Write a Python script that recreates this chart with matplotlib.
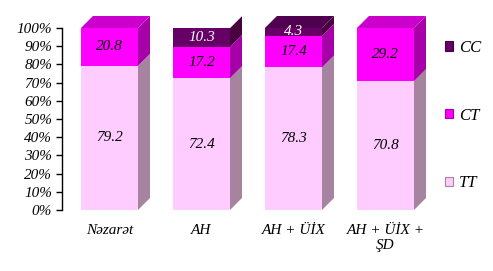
import matplotlib
matplotlib.use("Agg")
import matplotlib.pyplot as plt
from matplotlib.patches import Polygon, Patch
import numpy as np

# Datos (%)
categorias = ["Nəzarət", "AH", "AH + ÜİX", "AH + ÜİX +\nŞD"]
series = ["TT", "CT", "CC"]
tt = [79.2, 72.4, 78.3, 70.8]
ct = [20.8, 17.2, 17.4, 29.2]
cc = [0.0, 10.3, 4.3, 0.0]

valores = [tt, ct, cc]
frente = ["#FFCCFF", "#FF00FF", "#660066"]
lado = ["#A6849F", "#A800A8", "#48003F"]
arriba = ["#E8B8E8", "#CC00CC", "#4F004F"]
color_txt = ["black", "black", "white"]

plt.rcParams["font.family"] = "Liberation Serif"
plt.rcParams["font.style"] = "italic"

fig = plt.figure(figsize=(4.93, 2.71), dpi=100)
paso = 92.0  # px por categoria
alto = 182.0  # px para 0-100%
ax = fig.add_axes([62 / 493, 1 - 210 / 271, 4.316 * paso / 493, alto / 271])
ax.set_xlim(-0.516, 3.8)
ax.set_ylim(0, 100)

ancho = 0.62
dx = 12 / paso
dy = 12 / alto * 100

x = np.arange(len(categorias))
base = np.zeros(len(categorias))
for i, (vals, cf, cl, ca, ct_) in enumerate(zip(valores, frente, lado, arriba, color_txt)):
    vals = np.array(vals)
    ax.bar(x, vals, ancho, bottom=base, color=cf, edgecolor="none", zorder=2)
    for j in range(len(x)):
        if vals[j] <= 0:
            continue
        xr = x[j] + ancho / 2
        xl = x[j] - ancho / 2
        y0 = base[j]
        y1 = base[j] + vals[j]
        ax.add_patch(Polygon([(xr, y0), (xr + dx, y0 + dy), (xr + dx, y1 + dy), (xr, y1)],
                             closed=True, facecolor=cl, edgecolor="none", zorder=1, clip_on=False))
        # cara superior solo para el ultimo segmento
        if abs(y1 - 100) < 0.05:
            ax.add_patch(Polygon([(xl, y1), (xl + dx, y1 + dy), (xr + dx, y1 + dy), (xr, y1)],
                                 closed=True, facecolor=ca, edgecolor="none", zorder=3, clip_on=False))
        ax.text(x[j], y0 + vals[j] / 2, f"{vals[j]:.1f}", ha="center", va="center",
                fontsize=11, color=ct_, zorder=4)
    base = base + vals

ax.set_yticks(np.arange(0, 101, 10))
ax.set_yticklabels([f"{v}%" for v in range(0, 101, 10)], fontsize=11)
ax.set_xticks(x)
ax.set_xticklabels(categorias, fontsize=11, linespacing=1.2)
ax.tick_params(axis="x", length=0, pad=10)
ax.tick_params(axis="y", length=4, width=1, direction="out", pad=3)
for s in ["top", "right", "bottom"]:
    ax.spines[s].set_visible(False)
ax.spines["left"].set_linewidth(1)

handles = [Patch(facecolor=frente[k], edgecolor=lado[k], linewidth=0.8) for k in [2, 1, 0]]
fig.legend(handles, ["CC", "CT", "TT"], loc="center left",
           bbox_to_anchor=(445 / 493, 1 - 115.5 / 271), frameon=False, fontsize=12,
           handlelength=0.5, handleheight=0.5, handletextpad=0.35, labelspacing=3.1,
           borderaxespad=0, borderpad=0)

fig.savefig("out.png", dpi=100)
